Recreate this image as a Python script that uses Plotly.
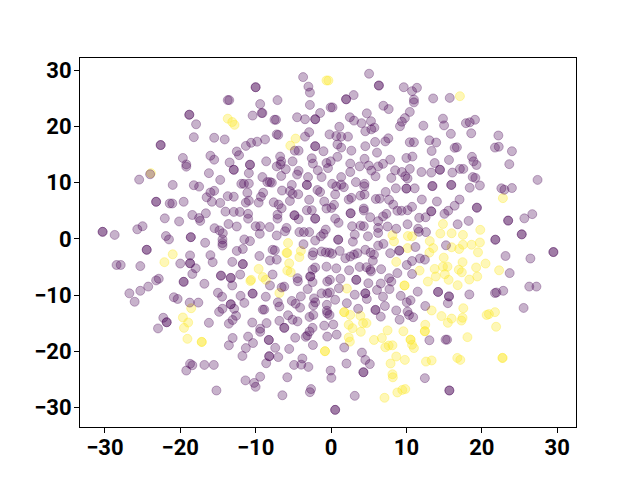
import plotly.graph_objects as go

purple_points = [
(-3.7,28.8),(-3.0,27.1),(-2.8,26.05),(-10,27),(-10,27),(-13.7,24.7),(-13.5,24.7),(-9.4,24.0),(-7.1,24.7),(-2.8,23.85),
(-18.8,22.1),(-18.8,22.1),(-17.9,20.4),(-10.4,21.95),(-9.2,22.4),(-9.1,22.4),(-7.5,21.2),(-7.3,21.2),(-4.5,21.65),(-3.45,21.3),
(-2.1,21.3),(-2.1,21.3),(-1.45,22.4),(-18.2,18.1),(-15.5,18.0),(-14.1,17.7),(-22.6,16.7),(-22.6,16.7),(-7.2,18.6),(-7.0,18.5),
(-8.75,17.7),(-9.8,17.3),(-10.6,17.1),(-11.3,16.55),(-4.8,15.7),(-4.3,15.7),(-3.45,18.2),(-2.9,19.0),(-2.1,16.5),(-2.1,16.5),
(-1.0,15.6),(-12.5,15.55),(-12.2,14.9),(-19.65,14.4),(-16.0,14.8),(-15.5,14.1),(-19.2,13.25),(-19.2,12.85),(-13.45,13.6),(-10.75,13.2),
(-10.75,13.2),(-12.9,12.3),(-12.9,12.3),(-8.6,13.8),(-6.75,14.65),(-6.6,13.8),(-6.7,13.25),(-7.2,12.9),(-6.0,12.4),(-5.1,13.8),
(-2.55,14.35),(-2.4,13.4),(-0.6,13.5),(-1.75,12.2),(-4.3,12.1),(-4.5,11.45),(-1.25,11.0),(-3.05,11.0),(-6.6,11.2),(-9.1,11.0),
(-10.9,11.7),(-16.2,11.7),(-24.0,11.5),(-25.45,10.55),(-21.0,9.6),(-14.7,10.5),(-18.2,9.55),(-17.5,9.3),(-15.5,8.55),(-16.0,8.25),
(-16.5,7.4),(-15.8,6.6),(-14.7,6.4),(-23.2,6.6),(-23.2,6.6),(-21.4,6.3),(-21.05,6.3),(-19.55,6.6),(-13.7,7.6),(-12.9,7.5),
(-11.9,9.8),(-11.55,9.8),(-10.9,9.85),(-11.1,8.2),(-11.3,6.45),(-10.9,6.8),(-9.6,6.45),(-9.3,7.5),(-9.0,8.2),(-8.45,10.1),
(-8.1,10.1),(-7.85,10.0),(-6.5,8.6),(-5.2,9.6),(-5.45,8.5),(-5.1,8.0),(-4.35,7.95),(-3.2,9.6),(-3.2,9.6),(-1.8,8.7),
(-1.45,8.35),(-2.9,6.95),(-0.9,6.65),(-7.6,6.5),(-6.95,6.1),(-6.55,5.45),(-7.1,4.3),(-7.1,3.6),(-5.45,6.75),(-4.85,4.2),
(-4.85,4.2),(-4.3,3.5),(-3.2,5.1),(-2.55,5.1),(-2.1,3.6),(-2.1,3.6),(-0.6,5.4),(-14.0,4.85),(-12.9,4.8),(-12.1,4.8),
(-11.0,4.45),(-11.0,3.6),(-18.4,4.25),(-16.6,4.55),(-17.5,3.7),(-17.35,3.2),(-22.05,3.65),(-20.15,3.1),(-13.6,2.65),(-12.5,2.2),
(-15.45,1.9),(-14.8,1.5),(-14.35,1.0),(-10,2.25),(-9.4,2.25),(-8.15,2.1),(-9.45,0.9),(-5.9,1.95),(-6.1,1.35),(-4.2,1.2),
(-3.6,1.2),(-2.9,1.2),(-7.2,0.6),(-0.7,1.65),(-1.0,0.9),(-1.35,0.45),(-2.1,-0.3),(-25,2.25),(-25.7,1.7),(-30.3,1.25),
(-30.3,1.25),(-28.7,0.7),(-21.9,0.5),(-21.5,-0.1),(-18.6,0.3),(-18.6,0.3),(-16.7,-0.7),(-14.4,-0.1),(-11.5,-0.1),(-10.75,-0.4),
(5.05,29.4),(6.35,27.3),(6.35,27.3),(9.65,27.0),(11.4,26.9),(10.75,26.3),(11.0,24.8),(11.0,24.3),(13.55,25.0),(15.75,25.1),
(3.0,25.6),(2.0,24.85),(2.0,24.85),(-0.05,23.4),(0.2,23.4),(6.95,23.7),(7.65,23.1),(10.45,22.6),(9.8,21.5),(9.4,20.85),
(9.15,20.05),(12.25,20.15),(14.85,21.4),(15.0,20.2),(15.9,18.7),(17.9,20.6),(18.4,20.75),(19.1,21.2),(18.6,18.8),(22.2,18.4),
(21.75,16.25),(22.25,16.4),(24.0,15.6),(23.65,13.3),(27.4,10.5),(2.5,21.65),(3.05,21.05),(4.05,20.6),(4.75,22.35),(5.3,20.95),
(5.75,19.8),(5.35,19.5),(4.55,19.15),(1.1,19.95),(-0.2,18.6),(0.7,18.3),(1.35,18.2),(2.25,18.2),(0.85,16.8),(1.35,16.25),
(2.7,15.7),(5.85,17.25),(4.55,16.5),(7.2,17.35),(7.6,17.9),(6.1,15.35),(10.45,17.2),(11.0,17.2),(13.05,17.55),(13.95,17.15),
(13.35,15.65),(16.4,16.2),(16.7,16.3),(18.7,14.6),(18.9,13.8),(19.3,13.15),(10,14.4),(10.8,14.65),(13.75,13.5),(15.65,14.05),
(14.45,12.3),(14.45,12.3),(17.1,12.45),(17.55,12.45),(16.1,11.8),(0.85,14.6),(-0.05,13.8),(-0.4,12.6),(2.55,13.4),(2.55,11.9),
(4.45,14.25),(3.8,12.9),(5.0,13.05),(5.35,12.15),(5.9,11.15),(6.25,12.9),(6.9,13.35),(7.85,14.1),(8.5,12.2),(9.4,11.9),
(9.85,11.15),(10.15,10.75),(10.45,12.45),(8.0,10.85),(12,11.9),(13.3,11.8),(1.35,11.0),(3.3,10.1),(4.45,9.8),(4.4,9.35),
(0.15,9.8),(0.7,9.35),(1.35,9.65),(1.7,9.2),(0.55,7.9),(2.7,7.3),(2.35,7.0),(3.9,7.7),(4.45,7.9),(8.6,9.0),
(10.0,8.95),(10.0,8.95),(11.1,9.0),(13.45,9.4),(13.45,9.4),(15.95,9.6),(15.95,9.6),(18.4,9.1),(19.75,9.5),(18.8,11.0),
(19.15,10.85),(22.6,9.0),(23.0,8.75),(24.0,9.05),(7.25,8.35),(5.95,7.1),(6.45,7.15),(7.7,6.95),(8.25,6.1),(12.05,7.0),
(14.05,6.65),(17.05,7.0),(16.4,5.9),(10.75,5.7),(8.8,5.0),(9.35,5.0),(10.15,5.1),(15.55,5.0),(15.05,4.45),(13.3,4.9),
(13.3,4.9),(12.55,3.85),(11.7,3.75),(19.35,5.55),(19.35,5.55),(0.05,5.5),(0.4,6.05),(4.35,5.4),(4.35,5.05),(2.6,4.55),
(2.6,4.55),(0.55,3.6),(1.0,2.85),(5.2,3.85),(6.9,4.0),(7.35,4.45),(6.25,3.15),(6.25,1.95),(6.25,1.05),(7.5,2.2),
(8.65,1.8),(2.8,2.25),(3.9,2.35),(4.35,2.25),(3.15,0.75),(2.9,-0.5),(4.9,0.45),(10.15,2.6),(11.55,1.8),(11.65,1.25),
(12.6,1.2),(16.8,2.6),(18.25,3.2),(23.5,3.25),(23.5,3.25),(25.65,3.65),(26.7,4.4),(25.3,0.8),(25.3,0.8),(21.8,-0.15),
(21.8,-0.15),(0.95,-0.15),(0.95,-0.15),
(-24.45,-1.95),(-24.45,-1.95),(-28.45,-4.65),(-27.9,-4.65),(-25.3,-4.85),(-20.0,-4.4),(-18.7,-2.95),(-18.7,-4.35),(-18.7,-4.35),(-17.95,-5.25),
(-18.4,-6.25),(-16.0,-2.9),(-15.7,-4.15),(-14.4,-0.75),(-14.4,-1.2),(-12.5,-2.15),(-11.7,-1.8),(-13.1,-4.1),(-11.7,-4.5),(-11.7,-4.5),
(-9.5,-3.05),(-8.1,-3.85),(-7.2,-3.7),(-7.75,-1.95),(-7.45,-2.05),(-3.65,-0.95),(-2.45,-2.95),(-2.35,-2.4),(-1.25,-2.25),(-0.7,-2.4),
(-0.2,-2.45),(-0.6,-4.95),(-2.45,-5.5),(-2.1,-5.1),(-7.75,-6.35),(-2.75,-6.7),(-2.75,-6.7),(-4.45,-7.0),(-4.4,-7.55),(-2.45,-7.7),
(-0.5,-7.6),(-0.15,-7.3),(-12.05,-6.35),(-14.6,-6.55),(-14.6,-6.55),(-13.3,-6.95),(-13.3,-6.95),(-13.1,-8.3),(-16.8,-8.0),(-19.55,-7.65),
(-19.55,-7.65),(-22.85,-7.1),(-23.2,-7.4),(-24.25,-8.5),(-25.3,-9.25),(-26.75,-9.7),(-26.05,-11.2),(-20.85,-10.4),(-20.35,-10.7),(-18.75,-11.35),
(-17.6,-11.35),(-15,-9.6),(-14.45,-10.3),(-12,-10.15),(-11.5,-11.4),(-10.4,-9.75),(-10.4,-9.75),(-8.65,-10.3),(-8.1,-8.3),(-6.55,-8.65),
(-6.2,-8.5),(-3.1,-8.95),(-4.0,-10.25),(-5.2,-11.05),(-4.7,-11.55),(-4.1,-12.25),(-7.05,-11.3),(-6.85,-12.05),(-1.25,-9.7),(-0.5,-9.7),
(-0.15,-9.55),(-2.25,-10.6),(-2.1,-11.3),(-2.35,-11.85),(-0.55,-11.75),(-13.3,-11.65),(-13.3,-11.65),(-12.85,-12.45),(-14.4,-12.45),(-14.85,-13.0),
(-12.6,-13.7),(-13.05,-14.45),(-13.55,-15.1),(-9.05,-12.6),(-8.85,-12.6),(-22.25,-14.05),(-21.8,-14.85),(-21.8,-14.85),(-22.95,-15.95),(-16.2,-14.95),
(-10.45,-14.9),(-8.55,-15.0),(-6.85,-14.6),(-5.7,-13.6),(-5.1,-14.4),(-4.45,-14.7),(-2.85,-13.9),(-2.35,-13.55),(-0.55,-12.8),(-0.5,-13.25),
(-0.2,-13.55),(-0.9,-15.45),(-6.2,-15.85),(-6.2,-15.85),(-9.4,-16.0),(-9.4,-16.55),(-2.45,-15.85),(-2.85,-16.5),(-3.15,-17.2),(-3.35,-17.45),
(-0.5,-17.4),(-4.75,-17.6),(-13.05,-17.65),(-13.55,-18.95),(-11,-17.4),(-10.35,-18.55),(-11.3,-19.45),(-11.75,-20.85),(-8.25,-18.0),(-8.25,-18.0),
(-7.4,-19.4),(-5.55,-19.6),(-2.4,-18.9),(-8.2,-20.9),(-8.2,-20.9),(-7,-21.05),(-8.6,-22.15),(-3.8,-21.3),(-3.95,-22.4),(-4.9,-22.45),
(-3.0,-22.8),(-18.7,-22.25),(-18.4,-22.5),(-19.2,-23.45),(-16.8,-22.45),(-15.55,-22.45),(-9.4,-24.55),(-5.8,-24.65),(-11.35,-25.2),(-10.2,-25.65),
(-10,-26.35),(-15.2,-27),(-6.45,-27.85),(-2.65,-26.75),(-2.8,-27.3),
(0.15,-2.65),(1.15,-2.15),(1.9,-3.45),(2.55,-3.15),(3.05,-2.8),(3.5,-2.55),(4.55,-1.95),(5.25,-2.45),(5.7,-2.8),(5.55,-3.9),
(6.25,-1.2),(6.95,-0.9),(7.85,-2.55),(9.05,-2.1),(9.05,-2.1),(11.2,-1.45),(15.25,-1.15),(23.15,-3.05),(26.45,-3.5),(29.5,-2.35),
(29.5,-2.35),(23.7,-6.1),(10.05,-4.65),(10.75,-3.95),(11.8,-3.5),(12.45,-3.7),(10.75,-6.25),(8.8,-6.1),(6.65,-5.4),(3.8,-5),
(4.7,-5.05),(5.2,-5.5),(5.3,-5.8),(2.4,-5.6),(0.7,-5.25),(1.25,-7.1),(3.35,-7.3),(3.35,-7.3),(4.95,-7.9),(7.7,-7),
(8.0,-7.6),(6.6,-7.95),(6.1,-9.1),(7.75,-8.95),(1.05,-8.8),(3.15,-9.95),(4.55,-9.7),(4.55,-9.7),(4.75,-10.7),(6.9,-10.3),
(9.25,-10.15),(11.5,-9.4),(0.55,-10.85),(2.1,-11.45),(3.6,-12.45),(5.9,-12.65),(5.9,-12.65),(7.15,-11.95),(10.05,-11.3),(10.55,-10.95),
(14.2,-9.45),(14.2,-9.45),(15.65,-10.25),(15.65,-10.25),(15.5,-11.45),(18.35,-9.9),(21.75,-9.65),(21.95,-9.55),(22.85,-9.25),(26.3,-8.5),
(27.25,-8.5),(25.55,-12.3),(12.5,-11.95),(8.65,-12.75),(10.15,-12.95),(10.35,-13.55),(10.9,-13.95),(6.6,-13.85),(9.1,-14.4),(0.3,-15.25),
(0.75,-17.05),(13.05,-18.05),(15.2,-17.95),(15.4,-17.95),(1.75,-19.35),(4.1,-20.25),(4.55,-21.55),(5.15,-22.3),(2.05,-22.2),(4.3,-23.75),
(4.3,-23.75),(-0.05,-23.45),(0.05,-24.75),(12.45,-24.8),(3.15,-27.95),(15.7,-27),(15.7,-27),(0.55,-30.45),(0.55,-30.45),
]

yellow_points = [
(-13.7,21.4),(-13.1,20.8),(-12.8,20.3),(-0.6,28.2),(-0.35,28.2),(-4.7,17.85),(-5.4,16.6),(-23.9,11.7),
(17.1,25.4),(22.8,7.25),(14.85,2.65),(14.5,0.95),(16,1.0),(17.5,0.7),(19.8,1.6),(8.15,0.65),(8.35,-0.45),(10.2,0.5),(10.75,0.45),(13.1,-0.4),
(-21.0,-2.75),(-22.1,-4.15),(-5.7,-0.75),(-5.9,-2.5),(-5.8,-2.5),(-4.0,-2.15),(-4.2,-3.25),(-5.55,-4.35),(-9.6,-5.35),(-5.8,-5.65),
(-5.35,-5.95),(-9.05,-6.8),(-8.65,-7.3),(-10.7,-7.5),(-10.6,-7.3),(-6.85,-9.65),(-18.55,-12.35),(-19.65,-14.0),(-18.95,-14.9),(-19.5,-15.85),
(-19.05,-17.8),(-17.15,-18.35),(-17.15,-18.35),(-0.8,-20),(-0.8,-20),
(10.15,-1.65),(13.55,-1.65),(13.05,-2.45),(16,-1.5),(17,-1.8),(17.5,-1.05),(18.65,-1.05),(19.75,-0.65),(19.5,-2.4),(14.95,-3.35),
(17.45,-4.15),(14.85,-4.95),(15.45,-4.95),(20.5,-4.4),(19.25,-5.1),(13.75,-5.35),(16.95,-5.5),(17.35,-5.95),(22.3,-5.6),(15.1,-6.3),
(13.9,-6.7),(15.6,-7.3),(12.85,-7.6),(19.4,-6.7),(18.35,-7.25),(16.8,-8.25),(11.75,-5.65),(8.65,-4.1),(9.75,-8.3),(9.75,-8.3),
(2.1,-8.85),(1.75,-13.05),(1.75,-13.05),(2.55,-13.55),(3.9,-13.7),(4.25,-15),(4.7,-15),(2.35,-15.3),(2.85,-15.9),(3.95,-16.55),
(2.35,-17.55),(2.5,-18.3),(5.7,-18),(6.75,-17.65),(7.5,-16.3),(9.6,-16.45),(12.5,-15.3),(12.45,-16.45),(12.45,-16.45),(13.35,-12.75),
(14.65,-13.75),(16,-14.2),(15.5,-14.95),(17.55,-12.35),(17.45,-14.05),(17.3,-14.55),(20.65,-13.55),(20.95,-13.4),(21.75,-13.05),(21.9,-15.65),
(18.1,-17.5),(10.55,-17.95),(10.55,-17.95),(10.75,-18.85),(11.0,-19.45),(7.2,-19.3),(7.65,-19),(8.15,-18.95),(8.65,-20.95),(9.8,-21.55),
(7.9,-22.2),(12.6,-21.85),(13.35,-21.65),(16.75,-21.2),(17.15,-21.55),(22.75,-21.2),(22.75,-21.2),(8.15,-24.1),(8.2,-24.65),(9.85,-26.75),
(9.45,-26.9),(8.8,-27.35),(7.1,-28.3),
]

tick_values = [-30, -20, -10, 0, 10, 20, 30]
tick_labels = ["\u221230", "\u221220", "\u221210", "0", "10", "20", "30"]

fig = go.Figure()
for pts, rgba, edge in ((yellow_points, "rgba(253,231,37,0.33)", "rgba(253,231,37,0.35)"),
                        (purple_points, "rgba(68,1,84,0.3)", "rgba(68,1,84,0.3)")):
    fig.add_trace(go.Scatter(
        x=[p[0] for p in pts], y=[p[1] for p in pts], mode="markers",
        marker=dict(size=9, color=rgba, line=dict(color=edge, width=1)),
        showlegend=False, hoverinfo="skip"))

axis = dict(showgrid=False, zeroline=False, showline=True, mirror=True, linecolor="black", linewidth=1,
            ticks="", automargin=False,
            minor=dict(ticks="outside", ticklen=5, tickwidth=1, tickcolor="black",
                       tickmode="array", tickvals=tick_values, showgrid=False),
            tickmode="array", tickvals=tick_values, ticktext=tick_labels,
            tickfont=dict(family="Roboto", size=22, color="black", weight=700))
fig.update_layout(
    width=624, height=464, autosize=False,
    margin=dict(l=72, r=56, t=50, b=45),
    paper_bgcolor="white", plot_bgcolor="white",
    xaxis=dict(range=[-33.3, 32.5], ticklabelstandoff=1, **axis),
    yaxis=dict(range=[-33.5, 32.2], ticklabelstandoff=3, **axis),
)
fig.write_html("out.html", config={"displayModeBar": False})
